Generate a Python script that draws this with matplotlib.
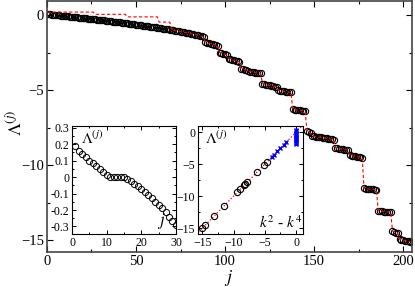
import numpy as np
import matplotlib.pyplot as plt

plt.rcParams['font.family'] = ['Liberation Serif', 'DejaVu Serif']
plt.rcParams['mathtext.fontset'] = 'stix'

# main curve: eigenvalues Lambda^(j), j = 0..204
lam = [0.10, 0.08, 0.06, 0.05, 0.04, 0.02, 0.01, 0.00, -0.01, -0.03,
       -0.04, -0.05, -0.07, -0.08, -0.09, -0.11, -0.12, -0.13, -0.15, -0.16,
       -0.17, -0.19, -0.20, -0.21, -0.23, -0.24, -0.25, -0.27, -0.28, -0.29,
       -0.31, -0.32, -0.34, -0.35, -0.36, -0.38, -0.39, -0.41, -0.42, -0.44,
       -0.45, -0.47, -0.48, -0.50, -0.51, -0.53, -0.55, -0.56, -0.58, -0.59,
       -0.61, -0.63, -0.64, -0.66, -0.68, -0.69, -0.71, -0.73, -0.75, -0.76,
       -0.78, -0.80, -0.82, -0.84, -0.86, -0.88, -0.90, -0.92, -0.94, -0.96,
       -0.98, -1.00, -1.02, -1.04, -1.06, -1.09, -1.11, -1.13, -1.15, -1.18,
       -1.20, -1.23, -1.25, -1.28, -1.30, -1.33, -1.36, -1.40, -1.45,
       -1.80, -1.84, -1.87, -1.90, -1.93, -1.96, -2.00, -2.05,
       -2.50, -2.53, -2.56, -2.60, -2.65,
       -2.90, -2.93, -2.96, -3.00, -3.03, -3.07, -3.10,
       -3.55, -3.60, -3.63, -3.66, -3.70, -3.75, -3.78, -3.80, -3.82, -3.84, -3.86, -3.88,
       -4.55, -4.58, -4.62, -4.65, -4.68, -4.70, -4.72, -4.75, -4.80,
       -5.00, -5.02, -5.05, -5.07, -5.09, -5.11, -5.13, -5.15,
       -6.28, -6.30, -6.31, -6.33, -6.34, -6.36, -6.38, -6.40,
       -7.75, -7.80, -7.85,
       -8.05, -8.07, -8.09, -8.11, -8.13, -8.15, -8.17, -8.19, -8.21, -8.23, -8.25, -8.27, -8.30,
       -8.85, -8.88, -8.90, -8.92, -8.94, -8.96, -8.98, -9.00,
       -9.35, -9.37, -9.39, -9.41, -9.43, -9.45, -9.47, -9.50,
       -11.55, -11.57, -11.59, -11.60, -11.61, -11.62, -11.63, -11.65,
       -13.05, -13.07, -13.08, -13.10, -13.11, -13.12, -13.13, -13.15,
       -14.40, -14.45, -14.50, -14.55,
       -14.95, -15.00, -15.02, -15.04, -15.06, -15.08, -15.10]

# red dashed curve differs from circles only at the start (j = 0..69)
red_start = [0.22] * 27 + [0.07] * 18 + [-0.10] * 18 + [-0.45] * 7

# inset 1: first 30 eigenvalues
j_small = list(range(1, 31))
lam_small = [0.19, 0.16, 0.14, 0.12, 0.10, 0.085, 0.065, 0.05, 0.03, 0.015,
             0.0, 0.0, 0.0, 0.0, 0.0, -0.01, -0.025, -0.04, -0.055, -0.07,
             -0.09, -0.11, -0.13, -0.15, -0.17, -0.19, -0.21, -0.24, -0.265, -0.29]

# inset 2: Lambda vs k^2 - k^4
k_circ = [-15.05, -14.5, -13.1, -11.6, -9.4, -8.9, -8.3, -8.1, -7.8, -6.3, -5.07, -4.67]
lam_circ = [-15.05, -14.5, -13.1, -11.6, -9.4, -8.9, -8.3, -8.1, -7.8, -6.3, -5.07, -4.67]
k_blue = [-3.85, -3.6, -3.0, -2.5, -2.0, -1.6,
          0.0, 0.0, 0.0, 0.0, 0.0, 0.0, 0.0, 0.0, 0.0, 0.0, 0.0, 0.0]
lam_blue = [-3.85, -3.6, -3.0, -2.5, -2.0, -1.6,
            0.3, 0.1, -0.1, -0.3, -0.5, -0.7, -0.9, -1.1, -1.3, -1.5, -1.7, -1.9]

j = np.arange(len(lam))
red = list(red_start) + lam[len(red_start):]

fig = plt.figure(figsize=(4.15, 2.87), dpi=100)
ax = fig.add_axes([0.113, 0.122, 0.880, 0.874])
ax.plot(j, red, color='red', ls='--', lw=0.8, dashes=(3, 2), zorder=3)
ax.plot(j, lam, 'o', mfc='none', mec='black', ms=4.5, mew=0.8, zorder=2)
ax.set_xlim(0, 205)
ax.set_ylim(-15.8, 0.95)
ax.set_xticks([0, 50, 100, 150, 200])
ax.set_xticks([25, 75, 125, 175], minor=True)
ax.set_yticks([0, -5, -10, -15])
ax.set_yticks([-2.5, -7.5, -12.5], minor=True)
ax.tick_params(direction='in', top=True, right=True, labelsize=10.5, length=4, width=0.8, pad=2)
ax.tick_params(which='minor', direction='in', top=True, right=True, length=2, width=0.8)
for s in ax.spines.values():
    s.set_color('#444444')
    s.set_linewidth(1.2)
fig.text(229 / 415, 1 - 278 / 287, r'$j$', fontsize=13, ha='center', va='center')
fig.text(15 / 415, 1 - 123 / 287, r'$\Lambda^{(j)}$', fontsize=13, ha='center', va='center',
         rotation=90)

# inset 1
ax1 = fig.add_axes([0.1735, 0.185, 0.2505, 0.376])
ax1.plot(j_small, lam_small, 'o', mfc='none', mec='black', ms=4.5, mew=0.7)
ax1.set_xlim(0, 30)
ax1.set_ylim(-0.345, 0.31)
ax1.set_xticks([0, 10, 20, 30])
ax1.set_xticks([5, 15, 25], minor=True)
ax1.set_yticks([0.3, 0.2, 0.1, 0, -0.1, -0.2, -0.3])
ax1.set_yticklabels(['0.3', '0.2', '0.1', '0', '-0.1', '-0.2', '-0.3'])
ax1.set_yticks([0.25, 0.15, 0.05, -0.05, -0.15, -0.25], minor=True)
ax1.tick_params(direction='in', top=True, right=True, labelsize=8.5, length=3, width=0.7, pad=2)
ax1.tick_params(which='minor', direction='in', top=True, right=True, length=1.5, width=0.7)
ax1.text(0.09, 0.97, r'$\Lambda^{(j)}$', transform=ax1.transAxes, fontsize=11, va='top')
ax1.text(0.82, 0.03, r'$j$', transform=ax1.transAxes, fontsize=12, va='bottom')

# inset 2
ax2 = fig.add_axes([0.477, 0.185, 0.253, 0.376])
ax2.plot([-16, 1], [-16, 1], color='red', ls=':', lw=0.9)
ax2.plot(k_circ, lam_circ, 'o', mfc='none', mec='black', ms=4.5, mew=0.8)
ax2.plot(k_blue, lam_blue, 'x', color='blue', ms=3.5, mew=1.0)
ax2.set_xlim(-15.7, 1.1)
ax2.set_ylim(-15.9, 0.95)
ax2.set_xticks([-15, -10, -5, 0])
ax2.set_yticks([0, -5, -10, -15])
ax2.set_xticks([-12.5, -7.5, -2.5], minor=True)
ax2.set_yticks([-2.5, -7.5, -12.5], minor=True)
ax2.tick_params(direction='in', top=True, right=True, labelsize=8.5, length=3, width=0.7, pad=2)
ax2.tick_params(which='minor', direction='in', top=True, right=True, length=1.5, width=0.7)
ax2.text(0.07, 0.97, r'$\Lambda^{(j)}$', transform=ax2.transAxes, fontsize=11, va='top')
ax2.text(0.58, 0.03, r'$k^2$ - $k^4$', transform=ax2.transAxes, fontsize=11, va='bottom')

fig.savefig('out.png', dpi=100)
